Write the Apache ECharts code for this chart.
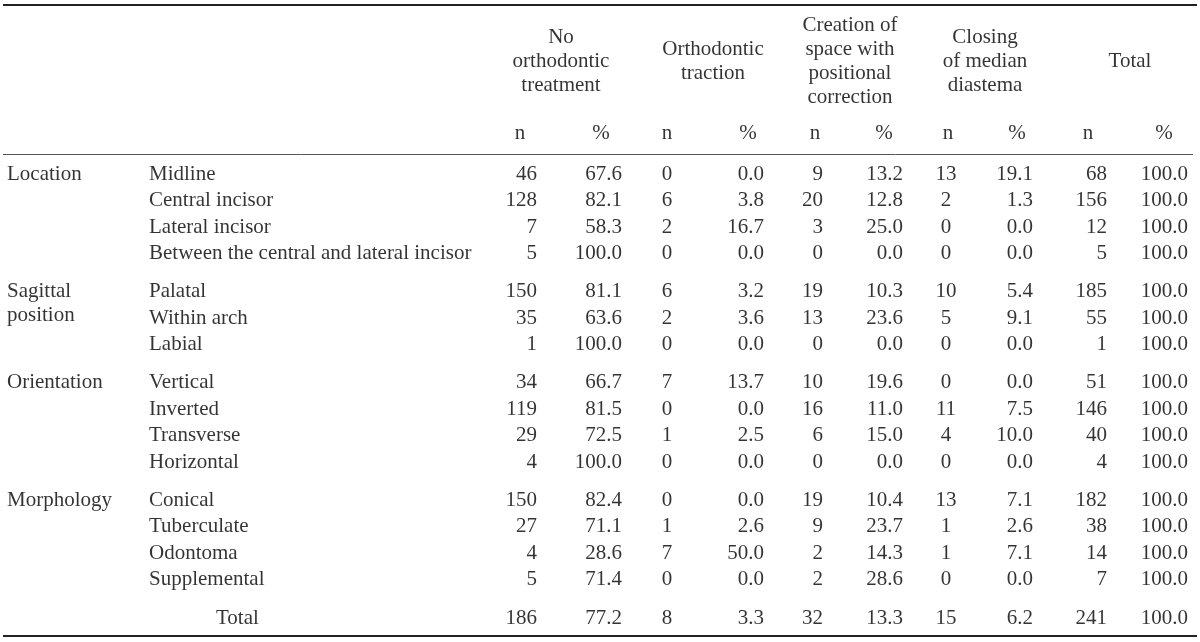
<!DOCTYPE html>
<html>
<head>
<meta charset="utf-8">
<script src="https://cdn.jsdelivr.net/npm/echarts@6/dist/echarts.min.js"></script>
<style>html,body{margin:0;padding:0;background:#fff}#c{width:1200px;height:642px}</style>
</head>
<body>
<div id="c"></div>
<script>
// ---- data ----
const headers = ['No\northodontic\ntreatment', 'Orthodontic\ntraction', 'Creation of\nspace with\npositional\ncorrection', 'Closing\nof median\ndiastema', 'Total'];
const subHeaders = ['n', '%', 'n', '%', 'n', '%', 'n', '%', 'n', '%'];
const groups = ['Location', 'Sagittal\nposition', 'Orientation', 'Morphology'];
const groupSizes = [4, 3, 4, 4];
const rowLabels = ['Midline', 'Central incisor', 'Lateral incisor', 'Between the central and lateral incisor',
  'Palatal', 'Within arch', 'Labial',
  'Vertical', 'Inverted', 'Transverse', 'Horizontal',
  'Conical', 'Tuberculate', 'Odontoma', 'Supplemental'];
const nNone = [46, 128, 7, 5, 150, 35, 1, 34, 119, 29, 4, 150, 27, 4, 5];
const pNone = [67.6, 82.1, 58.3, 100.0, 81.1, 63.6, 100.0, 66.7, 81.5, 72.5, 100.0, 82.4, 71.1, 28.6, 71.4];
const nTrac = [0, 6, 2, 0, 6, 2, 0, 7, 0, 1, 0, 0, 1, 7, 0];
const pTrac = [0.0, 3.8, 16.7, 0.0, 3.2, 3.6, 0.0, 13.7, 0.0, 2.5, 0.0, 0.0, 2.6, 50.0, 0.0];
const nCre = [9, 20, 3, 0, 19, 13, 0, 10, 16, 6, 0, 19, 9, 2, 2];
const pCre = [13.2, 12.8, 25.0, 0.0, 10.3, 23.6, 0.0, 19.6, 11.0, 15.0, 0.0, 10.4, 23.7, 14.3, 28.6];
const nClo = [13, 2, 0, 0, 10, 5, 0, 0, 11, 4, 0, 13, 1, 1, 0];
const pClo = [19.1, 1.3, 0.0, 0.0, 5.4, 9.1, 0.0, 0.0, 7.5, 10.0, 0.0, 7.1, 2.6, 7.1, 0.0];
const nTot = [68, 156, 12, 5, 185, 55, 1, 51, 146, 40, 4, 182, 38, 14, 7];
const pTot = [100.0, 100.0, 100.0, 100.0, 100.0, 100.0, 100.0, 100.0, 100.0, 100.0, 100.0, 100.0, 100.0, 100.0, 100.0];
const totalLabel = 'Total';
const totalN = [186, 8, 32, 15, 241];
const totalP = [77.2, 3.3, 13.3, 6.2, 100.0];

// ---- layout (not data) ----
const FONT = 'Liberation Serif';
const FS = 21;
const COLOR = '#000000';
const colX = [537, 622, 667, 764, 823, 903, 946, 1033, 1107, 1188];
const colAlign = ['right', 'right', 'center', 'right', 'right', 'right', 'center', 'right', 'right', 'right'];
const subX = [520, 601, 667, 748, 815, 884, 948, 1017, 1088, 1164];
const headX = [561, 713, 850, 985, 1130];
const headY = 61, subY = 133;
const groupX = 7, labelX = 149, totalLabelX = 216;
const rowStart = 174, rowStep = 26.5, groupGap = 11.5, totalGap = 12.5;

// row y positions
const rowY = [];
const groupY = [];
let y = rowStart;
groupSizes.forEach((s, g) => {
  if (g > 0) y += groupGap;
  groupY.push(y);
  for (let i = 0; i < s; i++) { rowY.push(y); y += rowStep; }
});
const totalY = y + totalGap;

const pts = [];
function add(x, yy, text, align, extra) {
  pts.push({ value: [x, yy], label: Object.assign({ formatter: text, align: align }, extra || {}) });
}
headers.forEach((h, i) => add(headX[i], headY, h, 'center', { lineHeight: 24 }));
subHeaders.forEach((h, i) => add(subX[i], subY, h, 'center'));
groups.forEach((g, i) => add(groupX, groupY[i], g, 'left', { lineHeight: 24, verticalAlign: 'top', offset: [0, -12] }));
rowLabels.forEach((r, i) => add(labelX, rowY[i], r, 'left'));
const cols = [nNone, pNone, nTrac, pTrac, nCre, pCre, nClo, pClo, nTot, pTot];
cols.forEach((arr, c) => {
  arr.forEach((v, i) => add(colX[c], rowY[i], c % 2 ? v.toFixed(1) : String(v), colAlign[c]));
});
add(totalLabelX, totalY, totalLabel, 'left');
totalN.forEach((v, i) => add(colX[i * 2], totalY, String(v), colAlign[i * 2]));
totalP.forEach((v, i) => add(colX[i * 2 + 1], totalY, v.toFixed(1), colAlign[i * 2 + 1]));

const chart = echarts.init(document.getElementById('c'), null, { renderer: 'canvas' });
chart.setOption({
  animation: false,
  backgroundColor: '#ffffff',
  grid: { left: 0, right: 0, top: 0, bottom: 0 },
  xAxis: { type: 'value', min: 0, max: 1200, show: false },
  yAxis: { type: 'value', min: 0, max: 642, inverse: true, show: false },
  series: [{
    type: 'scatter',
    symbolSize: 0.1,
    itemStyle: { color: 'rgba(0,0,0,0)' },
    silent: true,
    label: {
      show: true, position: 'inside', verticalAlign: 'middle',
      fontFamily: FONT, fontSize: FS, color: COLOR
    },
    data: pts
  }],
  graphic: [
    { type: 'line', shape: { x1: 3, y1: 5, x2: 1197, y2: 5 }, style: { stroke: '#222', lineWidth: 2 } },
    { type: 'line', shape: { x1: 3, y1: 154.5, x2: 1193, y2: 154.5 }, style: { stroke: '#555', lineWidth: 1 } },
    { type: 'line', shape: { x1: 3, y1: 636, x2: 1197, y2: 636 }, style: { stroke: '#222', lineWidth: 2 } }
  ]
});
</script>
</body>
</html>
